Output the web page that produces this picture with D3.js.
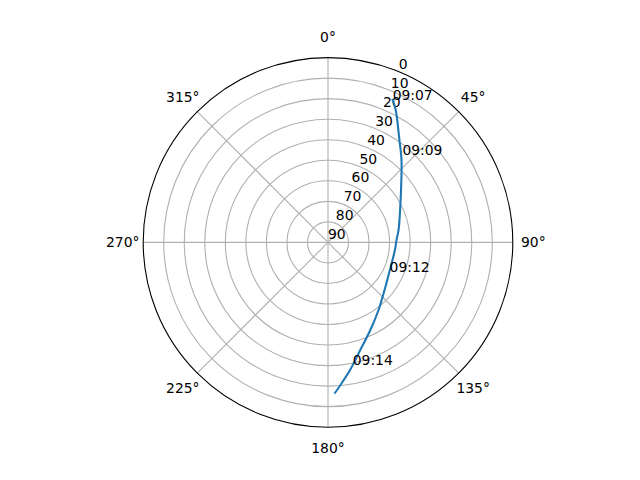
<!DOCTYPE html>
<html>
<head>
<meta charset="utf-8">
<script src="https://cdn.jsdelivr.net/npm/d3@7"></script>
<style>
  body { margin: 0; background: #fff; }
  text { font-family: "DejaVu Sans", sans-serif; font-size: 13.9px; fill: #000; }
</style>
</head>
<body>
<script>
// pass track: azimuth (deg, clockwise from N) and elevation (deg)
const azimuth = [24.4, 27.1, 34.9, 41.7, 54.3, 65.8, 80.0, 88.0, 96.5, 114.1, 130.1, 143.2, 154.2, 163.3, 170.2, 175.0, 177.3];
const elevation = [13.8, 17.6, 29.2, 36.2, 46.2, 51.5, 55.1, 56.6, 57.2, 57.0, 54.0, 48.9, 42.6, 35.3, 26.9, 20.3, 16.7];

// time marks along the track
const timeLabels = ["09:07", "09:09", "09:12", "09:14"];
const timeAz = [24.4, 40.5, 115.4, 168.6];
const timeEl = [13.8, 34.2, 56.8, 29.1];

const elevTicks = [0, 10, 20, 30, 40, 50, 60, 70, 80, 90];
const azTicks = [0, 45, 90, 135, 180, 225, 270, 315];

const width = 640, height = 480;
const cx = 328, cy = 242.4, R = 184.8;

const svg = d3.select("body").append("svg")
    .attr("width", width)
    .attr("height", height);

const g = svg.append("g").attr("transform", `translate(${cx},${cy})`);

// elevation 90 at the centre, 0 at the rim
const r = d3.scaleLinear().domain([90, 0]).range([0, R]);
const rad = (d) => d * Math.PI / 180;
const px = (az, el) => r(el) * Math.sin(rad(az));
const py = (az, el) => -r(el) * Math.cos(rad(az));

// rings
g.selectAll(".ring")
    .data(elevTicks.filter(d => d > 0 && d < 90))
    .enter()
    .append("circle")
    .attr("r", d => r(d))
    .attr("fill", "none")
    .attr("stroke", "#b0b0b0")
    .attr("stroke-width", 1.1);

// spokes
g.selectAll(".spoke")
    .data(azTicks)
    .enter()
    .append("line")
    .attr("x1", 0).attr("y1", 0)
    .attr("x2", d => px(d, 0))
    .attr("y2", d => py(d, 0))
    .attr("stroke", "#b0b0b0")
    .attr("stroke-width", 1.1);

// outer spine
g.append("circle")
    .attr("r", r(0))
    .attr("fill", "none")
    .attr("stroke", "#000")
    .attr("stroke-width", 1.1);

// azimuth labels
g.selectAll(".azlab")
    .data(azTicks)
    .enter()
    .append("text")
    .attr("x", d => (R + 20.5) * Math.sin(rad(d)))
    .attr("y", d => -(R + 20.5) * Math.cos(rad(d)))
    .attr("text-anchor", "middle")
    .attr("dominant-baseline", "central")
    .text(d => d + "°");

// elevation labels along 22.5 deg
g.selectAll(".rlab")
    .data(elevTicks)
    .enter()
    .append("text")
    .attr("x", d => px(22.5, d))
    .attr("y", d => py(22.5, d) - 3)
    .attr("text-anchor", "start")
    .text(d => d);

// track
const line = d3.line()
    .x((d, i) => px(azimuth[i], elevation[i]))
    .y((d, i) => py(azimuth[i], elevation[i]))
    .curve(d3.curveCatmullRom);

g.append("path")
    .datum(azimuth)
    .attr("d", line)
    .attr("fill", "none")
    .attr("stroke", "#1f77b4")
    .attr("stroke-width", 2.1)
    .attr("stroke-linecap", "square");

// time marks
g.selectAll(".tlab")
    .data(timeLabels)
    .enter()
    .append("text")
    .attr("x", (d, i) => px(timeAz[i], timeEl[i]))
    .attr("y", (d, i) => py(timeAz[i], timeEl[i]))
    .attr("text-anchor", "start")
    .text(d => d);
</script>
</body>
</html>
